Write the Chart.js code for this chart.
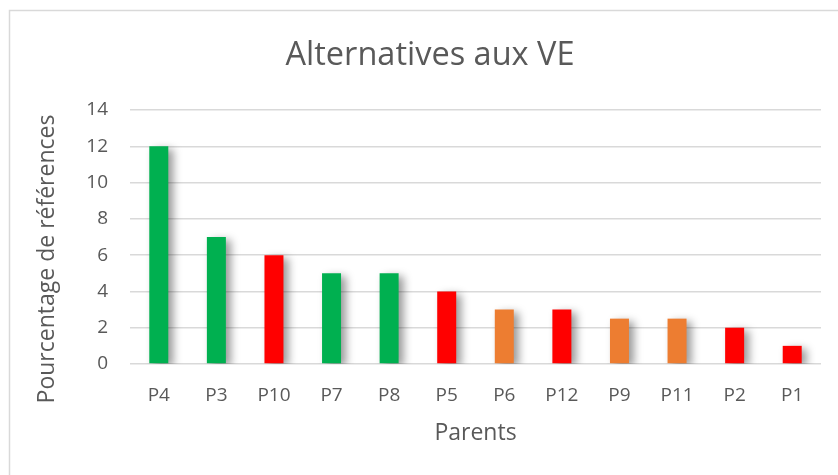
<!DOCTYPE html>
<html>
<head>
<meta charset="utf-8">
<script src="https://cdn.jsdelivr.net/npm/chart.js@4.4.0/dist/chart.umd.min.js"></script>
<style>
  html, body { margin: 0; padding: 0; background: #fff; }
  #wykres { display: block; }
</style>
</head>
<body>
<canvas id="wykres" width="838" height="475"></canvas>
<script>
const parents = ['P4', 'P3', 'P10', 'P7', 'P8', 'P5', 'P6', 'P12', 'P9', 'P11', 'P2', 'P1'];
const pourcentages = [12, 7, 6, 5, 5, 4, 3, 3, 2.5, 2.5, 2, 1];
const groupes = ['vert', 'vert', 'rouge', 'vert', 'vert', 'rouge', 'orange', 'rouge', 'orange', 'orange', 'rouge', 'rouge'];

const couleurs = { vert: '#00B050', rouge: '#FF0000', orange: '#ED7D31' };
const police = "'Open Sans', 'Noto Sans', sans-serif";
const gris = '#595959';
const titreY = 'Pourcentage de références';

// frame, shadow under the bars, y axis title (Excel centres it lower than chart.js does)
const cadre = {
  id: 'cadre',
  beforeDraw(chart) {
    const { ctx } = chart;
    ctx.save();
    ctx.strokeStyle = '#d9d9d9';
    ctx.lineWidth = 1.5;
    ctx.strokeRect(9.5, 10.5, 1000, 1000);
    ctx.restore();
  },
  beforeDatasetsDraw(chart) {
    const { ctx } = chart;
    ctx.save();
    ctx.shadowColor = 'rgba(0, 0, 0, 0.4)';
    ctx.shadowBlur = 8;
    ctx.shadowOffsetX = 5;
    ctx.shadowOffsetY = 3;
  },
  afterDatasetsDraw(chart) {
    chart.ctx.restore();
  },
  afterDraw(chart) {
    const { ctx } = chart;
    ctx.save();
    ctx.translate(47, 259);
    ctx.rotate(-Math.PI / 2);
    ctx.font = '23px ' + police;
    ctx.fillStyle = gris;
    ctx.textAlign = 'center';
    ctx.textBaseline = 'middle';
    ctx.fillText(titreY, 0, 0);
    ctx.restore();
  }
};

const data = {
  labels: parents,
  datasets: [{
    label: 'Alternatives aux VE',
    data: pourcentages,
    backgroundColor: groupes.map(g => couleurs[g]),
    borderWidth: 0,
    categoryPercentage: 1,
    barPercentage: 0.33
  }]
};

const config = {
  type: 'bar',
  data,
  options: {
    responsive: false,
    animation: false,
    layout: { padding: { left: 39, right: 17, top: 0, bottom: 0 } },
    plugins: {
      legend: { display: false },
      tooltip: { enabled: false },
      title: {
        display: true,
        text: 'Alternatives aux VE',
        color: gris,
        font: { family: police, size: 32.5, weight: 'normal' },
        padding: { top: 36, bottom: 35 }
      }
    },
    scales: {
      x: {
        grid: { display: false, drawTicks: false },
        border: { display: false },
        ticks: { color: gris, font: { family: police, size: 19 }, padding: 20, maxRotation: 0 },
        title: {
          display: true,
          text: 'Parents',
          color: gris,
          font: { family: police, size: 23 },
          padding: { top: 0, bottom: 28 }
        },
        afterFit(scale) { scale.height = 111; }
      },
      y: {
        min: 0,
        max: 14,
        ticks: { stepSize: 2, color: gris, font: { family: police, size: 19 }, padding: 22 },
        grid: { color: '#d9d9d9', lineWidth: 1.5, drawTicks: false },
        border: { display: false },
        afterFit(scale) { scale.width = 91; }
      }
    }
  },
  plugins: [cadre]
};

const wykres = new Chart(document.getElementById('wykres'), config);
</script>
</body>
</html>
